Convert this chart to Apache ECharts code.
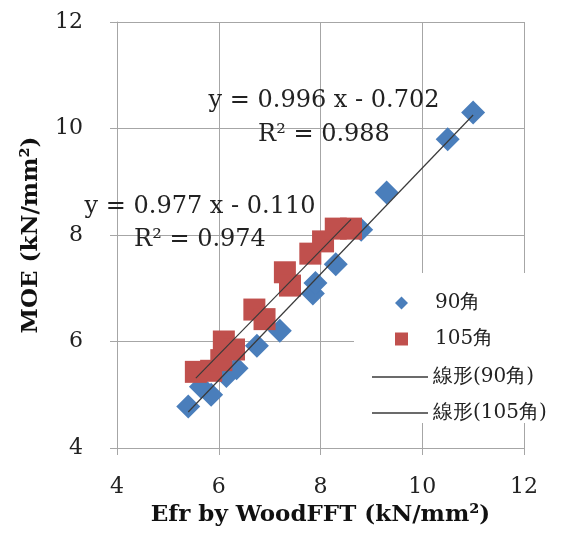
<!DOCTYPE html>
<html>
<head>
<meta charset="utf-8">
<script src="https://cdn.jsdelivr.net/npm/echarts@6/dist/echarts.min.js"></script>
<style>
  html, body { margin: 0; padding: 0; background: #fff; }
  #main { width: 565px; height: 533px; }
</style>
</head>
<body>
<div id="main"></div>
<script>
// 90角 (blue diamonds)
var x90 = [5.4, 5.65, 5.85, 6.15, 6.35, 6.75, 7.2, 7.85, 7.9, 8.3, 8.8, 9.3, 10.5, 11.0];
var y90 = [4.78, 5.15, 5.0, 5.35, 5.5, 5.92, 6.2, 6.9, 7.1, 7.45, 8.1, 8.8, 9.8, 10.3];
// 105角 (red squares)
var x105 = [5.55, 5.85, 6.05, 6.1, 6.3, 6.7, 6.9, 7.3, 7.4, 7.8, 8.05, 8.3, 8.6];
var y105 = [5.43, 5.45, 5.65, 6.0, 5.85, 6.6, 6.42, 7.3, 7.05, 7.65, 7.88, 8.12, 8.12];
// trendline coefficients (from the chart labels)
var fit90 = { slope: 0.996, intercept: -0.702, r2: 0.988 };
var fit105 = { slope: 0.977, intercept: -0.110, r2: 0.974 };
var axisTicks = [4, 6, 8, 10, 12];

var eq90 = 'y = 0.996 x - 0.702';
var rr90 = 'R\u00b2 = 0.988';
var eq105 = 'y = 0.977 x - 0.110';
var rr105 = 'R\u00b2 = 0.974';

function pairs(xs, ys) {
    var out = [];
    for (var i = 0; i < xs.length; i++) out.push([xs[i], ys[i]]);
    return out;
}
function trend(xs, fit) {
    var lo = Math.min.apply(null, xs), hi = Math.max.apply(null, xs);
    return [[lo, fit.slope * lo + fit.intercept], [hi, fit.slope * hi + fit.intercept]];
}

var serif = 'DejaVu Serif';
var gridCol = '#a6a6a6';
var lineCol = '#3a3a3a';
var eqFont = '24px "DejaVu Serif"';

var myChart = echarts.init(document.getElementById('main'));
var option = {
    backgroundColor: '#fff',
    animation: false,
    grid: { left: 117, right: 41, top: 22, bottom: 85 },
    xAxis: {
        type: 'value', min: axisTicks[0], max: axisTicks[axisTicks.length - 1], interval: 2,
        name: 'Efr by WoodFFT (kN/mm\u00b2)', nameLocation: 'middle', nameGap: 56,
        nameTextStyle: { fontFamily: serif, fontWeight: 'bold', fontSize: 23, color: '#111' },
        axisLine: { lineStyle: { color: gridCol } },
        axisTick: { show: true, length: 7, lineStyle: { color: gridCol } },
        axisLabel: { fontFamily: serif, fontSize: 22, color: '#222', margin: 28 },
        splitLine: { show: true, lineStyle: { color: gridCol, width: 1 } }
    },
    yAxis: {
        type: 'value', min: axisTicks[0], max: axisTicks[axisTicks.length - 1], interval: 2,
        name: 'MOE (kN/mm\u00b2)', nameLocation: 'middle', nameGap: 74,
        nameTextStyle: { fontFamily: serif, fontWeight: 'bold', fontSize: 23, color: '#111' },
        axisLine: { show: true, lineStyle: { color: gridCol } },
        axisTick: { show: true, length: 7, lineStyle: { color: gridCol } },
        axisLabel: { fontFamily: serif, fontSize: 22, color: '#222', margin: 34 },
        splitLine: { show: true, lineStyle: { color: gridCol, width: 1 } }
    },
    legend: [{
        orient: 'vertical', left: 390, top: 286, itemGap: 12,
        itemWidth: 13, itemHeight: 13,
        data: ['90角', '105角'],
        textStyle: { fontFamily: serif, fontSize: 20, color: '#222', lineHeight: 24, padding: [0, 0, 0, 22] }
    }, {
        orient: 'vertical', left: 367, top: 360, itemGap: 12,
        itemWidth: 56, itemHeight: 1.3,
        data: [
            { name: '線形(90角)', icon: 'rect', itemStyle: { color: lineCol } },
            { name: '線形(105角)', icon: 'rect', itemStyle: { color: lineCol } }
        ],
        textStyle: { fontFamily: serif, fontSize: 20, color: '#222', lineHeight: 24 }
    }],
    graphic: [
        { type: 'rect', left: 354, top: 273, z: 3, shape: { width: 211, height: 150 }, style: { fill: '#fff' } },
        { type: 'text', x: 324, y: 101, z: 5, style: { text: eq90, textAlign: 'center', textVerticalAlign: 'middle', font: eqFont, fill: '#222' } },
        { type: 'text', x: 324, y: 135, z: 5, style: { text: rr90, textAlign: 'center', textVerticalAlign: 'middle', font: eqFont, fill: '#222' } },
        { type: 'text', x: 200, y: 207, z: 5, style: { text: eq105, textAlign: 'center', textVerticalAlign: 'middle', font: eqFont, fill: '#222' } },
        { type: 'text', x: 200, y: 240, z: 5, style: { text: rr105, textAlign: 'center', textVerticalAlign: 'middle', font: eqFont, fill: '#222' } }
    ],
    series: [{
        name: '90角', type: 'scatter', symbol: 'diamond', symbolSize: 24,
        itemStyle: { color: '#4a7ebb', opacity: 1 },
        data: pairs(x90, y90)
    }, {
        name: '105角', type: 'scatter', symbol: 'rect', symbolSize: 22,
        itemStyle: { color: '#c0504d', opacity: 1 },
        data: pairs(x105, y105)
    }, {
        name: '線形(90角)', type: 'line', symbol: 'none', z: 4,
        lineStyle: { color: lineCol, width: 1.2 },
        itemStyle: { color: lineCol },
        data: trend(x90, fit90)
    }, {
        name: '線形(105角)', type: 'line', symbol: 'none', z: 4,
        lineStyle: { color: lineCol, width: 1.2 },
        itemStyle: { color: lineCol },
        data: trend(x105, fit105)
    }]
};
myChart.setOption(option);
</script>
</body>
</html>
